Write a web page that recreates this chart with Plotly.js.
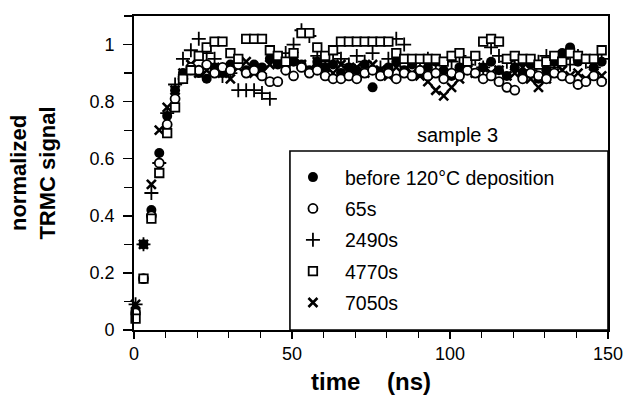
<!DOCTYPE html>
<html>
<head>
<meta charset="utf-8">
<script src="https://cdn.plot.ly/plotly-3.0.1.min.js"></script>
<style>html,body{margin:0;padding:0;background:#fff;}#chart{width:629px;height:397px;}</style>
</head>
<body>
<div id="chart"></div>
<script>
// time axis (ns), shared sampling grid
const time = [0.5, 3, 5.5, 8, 10.5, 13, 15.5, 18, 20.5, 23, 25.5, 28, 30.5, 33, 35.5, 38, 40.5, 43, 45.5, 48,
  50.5, 53, 55.5, 58, 60.5, 63, 65.5, 68, 70.5, 73, 75.5, 78, 80.5, 83, 85.5, 88, 90.5, 93, 95.5, 98,
  100.5, 103, 105.5, 108, 110.5, 113, 115.5, 118, 120.5, 123, 125.5, 128, 130.5, 133, 135.5, 138, 140.5, 143, 145.5, 148];

const seriesNames = ["before 120°C deposition", "65s", "2490s", "4770s", "7050s"];

const before120 = [0.07, 0.30, 0.42, 0.62, 0.75, 0.84, 0.90,
  0.91, 0.90, 0.88, 0.92, 0.90, 0.93, 0.94, 0.91, 0.93, 0.92, 0.95, 0.93, 0.92, 0.94, 0.93, 0.91, 0.94, 0.92, 0.93,
  0.90, 0.92, 0.91, 0.93, 0.85, 0.90, 0.92, 0.94, 0.91, 0.93, 0.90, 0.92, 0.94, 0.91, 0.89, 0.92, 0.93, 0.90, 0.92,
  0.94, 0.91, 0.89, 0.92, 0.90, 0.93, 0.88, 0.91, 0.94, 0.97, 0.99, 0.94, 0.95, 0.92, 0.94];

const s65 = [0.06, 0.18, 0.40, 0.585, 0.72, 0.81, 0.88,
  0.92, 0.91, 0.93, 0.90, 0.92, 0.91, 0.93, 0.90, 0.91, 0.89, 0.87, 0.87, 0.91, 0.89, 0.92, 0.90, 0.91, 0.89, 0.88,
  0.88, 0.89, 0.88, 0.90, 0.91, 0.89, 0.90, 0.88, 0.90, 0.89, 0.91, 0.89, 0.90, 0.88, 0.90, 0.89, 0.91, 0.90, 0.88,
  0.89, 0.87, 0.85, 0.84, 0.88, 0.90, 0.89, 0.88, 0.90, 0.89, 0.88, 0.86, 0.87, 0.89, 0.87];

const s2490 = [0.09, 0.30, 0.48, 0.585, 0.76, 0.86, 0.95,
  0.98, 1.02, 0.97, 0.95, 0.89, 0.90, 0.84, 0.84, 0.84, 0.83, 0.81, 0.95, 0.97, 1.00, 1.05, 1.03, 0.96, 0.94, 0.97,
  0.95, 0.93, 0.96, 0.94, 0.97, 0.92, 0.95, 1.02, 1.00, 0.94, 0.92, 0.95, 0.93, 0.91, 0.94, 0.96, 0.93, 0.95, 0.92,
  0.99, 0.96, 0.94, 0.95, 0.93, 0.91, 0.94, 0.96, 0.92, 0.95, 0.93, 0.96, 0.94, 0.92, 0.95];

const s4770 = [0.04, 0.18, 0.39, 0.55, 0.69, 0.78, 0.88,
  0.91, 0.96, 0.99, 1.01, 1.01, 0.97, 0.95, 1.02, 1.02, 1.02, 0.98, 0.96, 0.94, 0.97, 1.04, 1.04, 0.99, 0.96, 0.98,
  1.01, 1.01, 1.01, 1.01, 1.01, 1.01, 1.01, 0.97, 0.95, 0.95, 0.95, 0.95, 0.95, 0.94, 0.96, 0.97, 0.94, 0.96, 1.01,
  1.02, 1.01, 0.95, 0.96, 0.95, 0.95, 0.93, 0.94, 0.96, 0.94, 0.97, 0.96, 0.95, 0.95, 0.98];

const s7050 = [0.09, 0.30, 0.51, 0.70, 0.78, 0.84, 0.90,
  0.93, 0.90, 0.91, 0.92, 0.90, 0.88, 0.92, 0.94, 0.90, 0.91, 0.93, 0.95, 0.92, 0.96, 0.93, 0.91, 0.94, 0.92, 0.90,
  0.93, 0.91, 0.92, 0.90, 0.93, 0.91, 0.89, 0.92, 0.91, 0.90, 0.89, 0.87, 0.84, 0.82, 0.85, 0.88, 0.91, 0.90, 0.92,
  0.90, 0.91, 0.89, 0.90, 0.92, 0.88, 0.85, 0.88, 0.90, 0.91, 0.89, 0.90, 0.88, 0.90, 0.89];

const xTickVals = [0, 50, 100, 150];
const xTickText = ["0", "50", "100", "150"];
const yTickVals = [0, 0.2, 0.4, 0.6, 0.8, 1];
const yTickText = ["0", "0.2", "0.4", "0.6", "0.8", "1"];

const FONT = "Liberation Sans, Arial, Helvetica, sans-serif";
const markerSize = 9;

const traces = [
  {y: before120, name: seriesNames[0], marker: {symbol: "circle", size: markerSize + 1, color: "#000", line: {width: 0}}},
  {y: s7050, name: seriesNames[4], marker: {symbol: "x-thin-open", size: markerSize, color: "#000", line: {width: 2.6, color: "#000"}}},
  {y: s2490, name: seriesNames[2], marker: {symbol: "cross-thin-open", size: markerSize + 1, color: "#000", line: {width: 1.8, color: "#000"}}},
  {y: s65, name: seriesNames[1], marker: {symbol: "circle", size: markerSize, color: "#fff", line: {width: 1.8, color: "#000"}}},
  {y: s4770, name: seriesNames[3], marker: {symbol: "square", size: markerSize - 0.5, color: "#fff", line: {width: 1.8, color: "#000"}}}
].map((t, i) => Object.assign({x: time, type: "scatter", mode: "markers", legendgroup: "g" + i, cliponaxis: false}, t));

// legend order as in reference
const legendRank = {};
seriesNames.forEach((n, i) => legendRank[n] = i);
traces.forEach(t => t.legendrank = legendRank[t.name]);

const layout = {
  width: 629, height: 397,
  margin: {l: 134, r: 21, t: 16, b: 67},
  paper_bgcolor: "#fff", plot_bgcolor: "#fff",
  font: {family: FONT, color: "#000", size: 16},
  showlegend: true,
  legend: {
    x: 0.31, y: 0.548, xanchor: "left", yanchor: "top",
    bgcolor: "rgba(0,0,0,0)", borderwidth: 0,
    font: {family: FONT, size: 19.5, color: "#000"},
    tracegroupgap: 3, itemwidth: 54, traceorder: "grouped"
  },
  xaxis: {
    range: [0, 150], tickvals: xTickVals, ticktext: xTickText,
    ticks: "outside", ticklen: 7, tickwidth: 1.4, tickcolor: "#000",
    minor: {dtick: 10, ticks: "outside", ticklen: 6, tickwidth: 1.3, tickcolor: "#000"},
    showline: true, linecolor: "#000", linewidth: 1.8, mirror: true,
    showgrid: false, zeroline: false,
    tickfont: {family: FONT, size: 18},
    title: {text: "<b>time\u00a0\u00a0\u00a0\u00a0(ns)</b>", font: {family: FONT, size: 24}, standoff: 10}
  },
  yaxis: {
    range: [0, 1.1], tickvals: yTickVals, ticktext: yTickText,
    ticks: "outside", ticklen: 9, tickwidth: 1.4, tickcolor: "#000",
    minor: {dtick: 0.1, ticks: "outside", ticklen: 8, tickwidth: 1.3, tickcolor: "#000"},
    showline: true, linecolor: "#000", linewidth: 1.8, mirror: true,
    showgrid: false, zeroline: false, ticklabelstandoff: 5,
    tickfont: {family: FONT, size: 18},
    title: {text: "<b>normalized<br>TRMC signal</b>", font: {family: FONT, size: 22}, standoff: 28}
  },
  shapes: [{
    type: "rect", xref: "paper", yref: "paper",
    x0: 0.329, x1: 1, y0: 0, y1: 0.570,
    line: {color: "#000", width: 1.6}, fillcolor: "#fff", layer: "above"
  }],
  annotations: [{
    text: "sample 3", xref: "x", yref: "y", x: 102.5, y: 0.684,
    showarrow: false, font: {family: FONT, size: 20, color: "#000"}
  }]
};

Plotly.newPlot("chart", traces, layout, {displayModeBar: false, staticPlot: true});
</script>
</body>
</html>
